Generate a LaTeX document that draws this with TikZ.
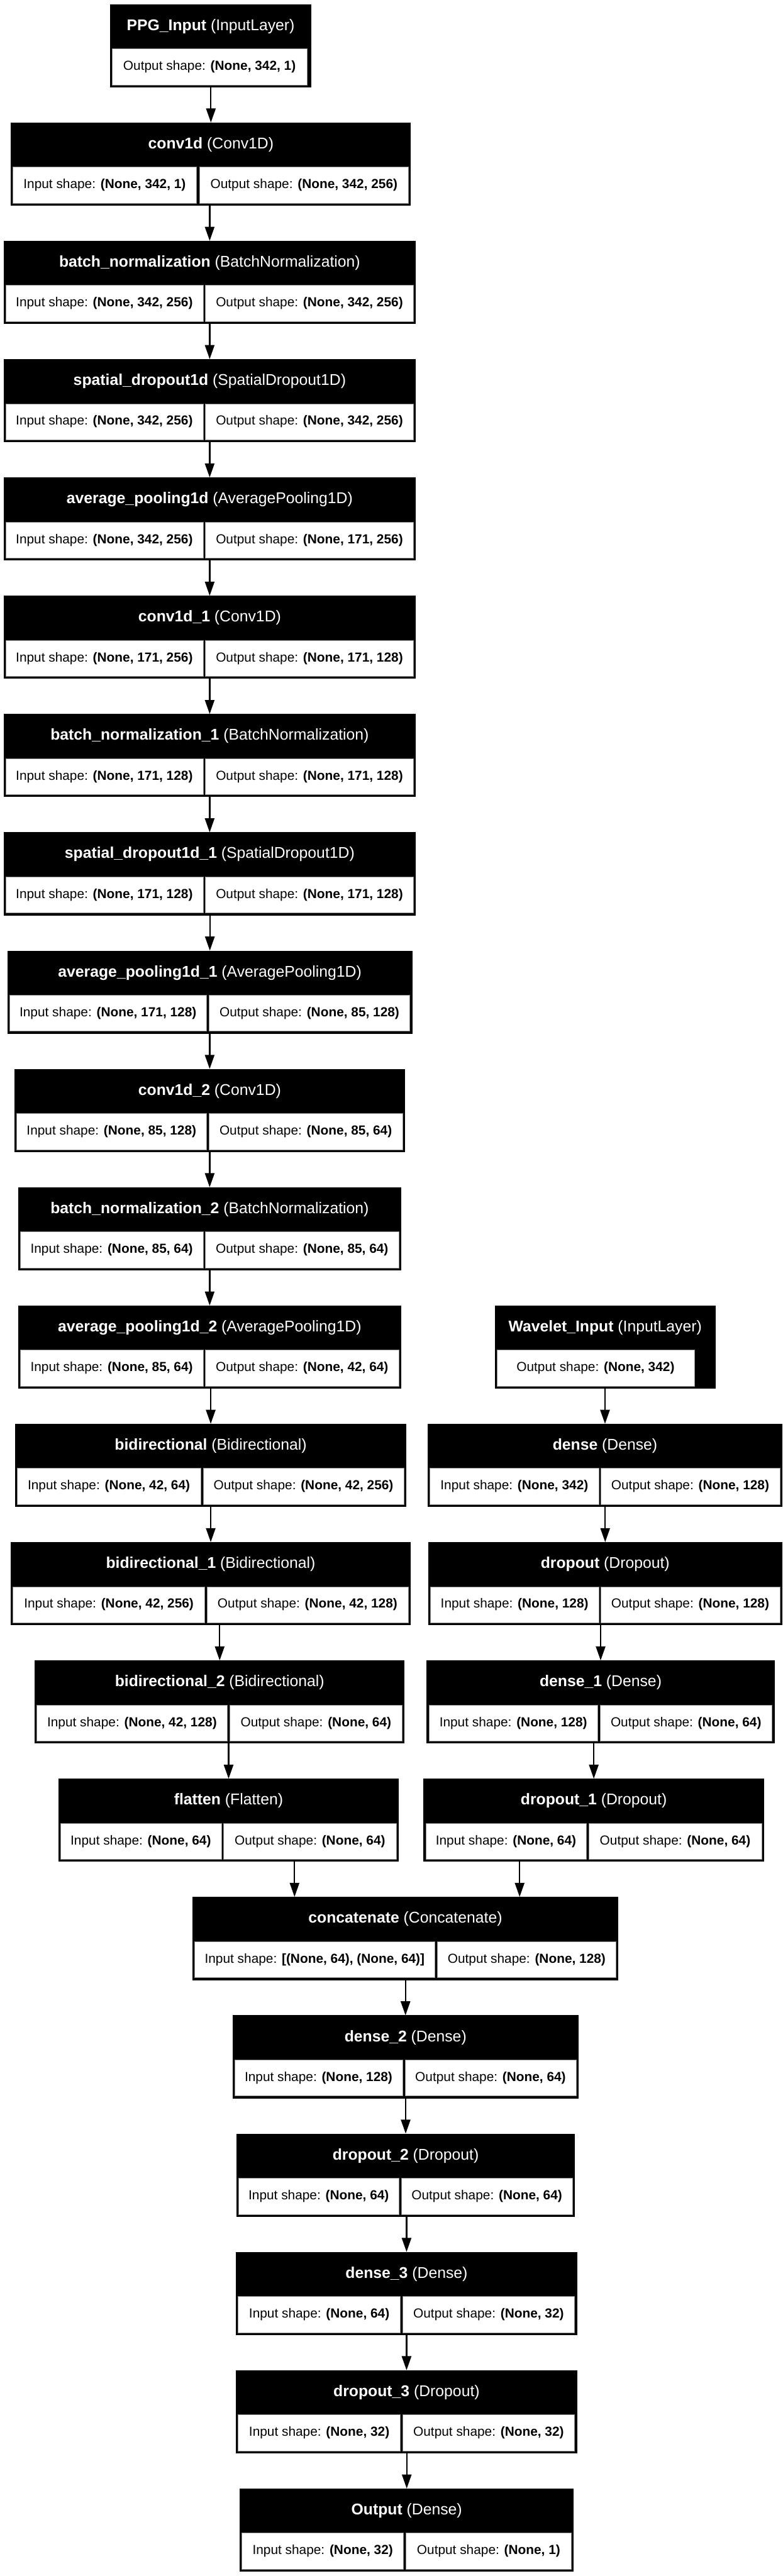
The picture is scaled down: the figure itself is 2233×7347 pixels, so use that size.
\documentclass[tikz,border=0pt]{standalone}
\usepackage{fontspec}
\setmainfont{Liberation Sans}
\usetikzlibrary{arrows.meta}
\tikzset{
 lbox/.style={fill=black, draw=none, minimum height=59.25pt, inner sep=0pt, outer sep=0pt},
 htxt/.style={text=white, inner sep=0pt, font=\fontsize{11.1}{13}\selectfont},
 cellbox/.style={fill=white, draw=black!45, line width=0.25pt, minimum height=25.75pt, inner sep=0pt, outer sep=0pt, font=\fontsize{9.35}{11}\selectfont},
 arr/.style={line width=1pt, -{Triangle[length=10pt,width=6.75pt]}},
}
\newcommand{\layer}[9]{%
 \pgfmathsetmacro{\lyty}{12+337.4*#2}%
 \node[lbox, anchor=north west, minimum width={(#4-#3)*0.25pt}] (#1) at (#3,\lyty) {};
 \node[htxt] (#1-t) at ({(#3+#4)/2},\lyty+63) {#7};
 \node[cellbox, anchor=north west, minimum width={(#5-#3-6)*0.25pt}] (#1-i) at (#3+6,\lyty+127) {Input shape: \textbf{#8}};
 \node[cellbox, anchor=north west, minimum width={(#4-7-#6)*0.25pt}] (#1-o) at (#6,\lyty+127) {Output shape: \textbf{#9}};
}
\newcommand{\inlayer}[7]{%
 \pgfmathsetmacro{\lyty}{12+337.4*#2}%
 \node[lbox, anchor=north west, minimum width={(#4-#3)*0.25pt}] (#1) at (#3,\lyty) {};
 \node[htxt] (#1-t) at ({(#3+#4)/2},\lyty+63) {#6};
 \node[cellbox, anchor=north west, minimum width={(#5-#3-6)*0.25pt}] (#1-o) at (#3+6,\lyty+127) {Output shape: \textbf{#7}};
}
\begin{document}
\begin{tikzpicture}[x=0.25pt,y=-0.25pt]
\fill[white] (0,0) rectangle (2233,7347);
% left branch
\inlayer{ppg}{0}{314}{888}{875}{\textbf{PPG\_Input} (InputLayer)}{(None, 342, 1)}
\layer{c1}{1}{31}{1172}{560}{569}{\textbf{conv1d} (Conv1D)}{(None, 342, 1)}{(None, 342, 256)}
\layer{bn}{2}{10}{1186}{579}{586}{\textbf{batch\_normalization} (BatchNormalization)}{(None, 342, 256)}{(None, 342, 256)}
\layer{sd}{3}{10}{1186}{579}{586}{\textbf{spatial\_dropout1d} (SpatialDropout1D)}{(None, 342, 256)}{(None, 342, 256)}
\layer{ap}{4}{10}{1186}{579}{586}{\textbf{average\_pooling1d} (AveragePooling1D)}{(None, 342, 256)}{(None, 171, 256)}
\layer{c2}{5}{10}{1186}{579}{586}{\textbf{conv1d\_1} (Conv1D)}{(None, 171, 256)}{(None, 171, 128)}
\layer{bn1}{6}{10}{1186}{579}{586}{\textbf{batch\_normalization\_1} (BatchNormalization)}{(None, 171, 128)}{(None, 171, 128)}
\layer{sd1}{7}{10}{1186}{579}{586}{\textbf{spatial\_dropout1d\_1} (SpatialDropout1D)}{(None, 171, 128)}{(None, 171, 128)}
\layer{ap1}{8}{21}{1176}{589}{596}{\textbf{average\_pooling1d\_1} (AveragePooling1D)}{(None, 171, 128)}{(None, 85, 128)}
\layer{c3}{9}{41}{1155}{589}{596}{\textbf{conv1d\_2} (Conv1D)}{(None, 85, 128)}{(None, 85, 64)}
\layer{bn2}{10}{52}{1144}{579}{586}{\textbf{batch\_normalization\_2} (BatchNormalization)}{(None, 85, 64)}{(None, 85, 64)}
\layer{ap2}{11}{52}{1144}{579}{586}{\textbf{average\_pooling1d\_2} (AveragePooling1D)}{(None, 85, 64)}{(None, 42, 64)}
\layer{bi}{12}{43}{1159}{572}{579}{\textbf{bidirectional} (Bidirectional)}{(None, 42, 64)}{(None, 42, 256)}
\layer{bia}{13}{31}{1171}{584}{590}{\textbf{bidirectional\_1} (Bidirectional)}{(None, 42, 256)}{(None, 42, 128)}
\layer{bib}{14}{99}{1154}{648}{655}{\textbf{bidirectional\_2} (Bidirectional)}{(None, 42, 128)}{(None, 64)}
\layer{fl}{15}{166}{1138}{631}{637}{\textbf{flatten} (Flatten)}{(None, 64)}{(None, 64)}
% right branch
\inlayer{wav}{11}{1411}{2041}{1980}{\textbf{Wavelet\_Input} (InputLayer)}{(None, 342)}
\layer{dn}{12}{1220}{2231}{1708}{1713}{\textbf{dense} (Dense)}{(None, 342)}{(None, 128)}
\layer{dr}{13}{1221}{2231}{1708}{1713}{\textbf{dropout} (Dropout)}{(None, 128)}{(None, 128)}
\layer{dna}{14}{1217}{2209}{1705}{1711}{\textbf{dense\_1} (Dense)}{(None, 128)}{(None, 64)}
\layer{dra}{15}{1208}{2179}{1672}{1679}{\textbf{dropout\_1} (Dropout)}{(None, 64)}{(None, 64)}
% merged trunk
\layer{cat}{16}{549}{1763}{1240}{1248}{\textbf{concatenate} (Concatenate)}{[(None, 64), (None, 64)]}{(None, 128)}
\layer{dnb}{17}{663}{1650}{1148}{1155}{\textbf{dense\_2} (Dense)}{(None, 128)}{(None, 64)}
\layer{drb}{18}{674}{1640}{1138}{1144}{\textbf{dropout\_2} (Dropout)}{(None, 64)}{(None, 64)}
\layer{dnc}{19}{673}{1646}{1142}{1148}{\textbf{dense\_3} (Dense)}{(None, 64)}{(None, 32)}
\layer{drc}{20}{673}{1646}{1142}{1148}{\textbf{dropout\_3} (Dropout)}{(None, 32)}{(None, 32)}
\layer{outl}{21}{684}{1636}{1151}{1158}{\textbf{Output} (Dense)}{(None, 32)}{(None, 1)}
% connectors
\foreach \a/\b in {ppg/c1, c1/bn, bn/sd, sd/ap, ap/c2, c2/bn1, bn1/sd1, sd1/ap1, ap1/c3, c3/bn2, bn2/ap2, ap2/bi, bi/bia, bia/bib, bib/fl, wav/dn, dn/dr, dr/dna, dna/dra, cat/dnb, dnb/drb, drb/dnc, dnc/drc, drc/outl}
  \draw[arr] (\a.south -| \b.north) -- (\b.north);
\coordinate (catinA) at (840,5410);
\coordinate (catinB) at (1482,5410);
\draw[arr] (fl.south -| catinA) -- (catinA);
\draw[arr] (dra.south -| catinB) -- (catinB);
\end{tikzpicture}
\end{document}
